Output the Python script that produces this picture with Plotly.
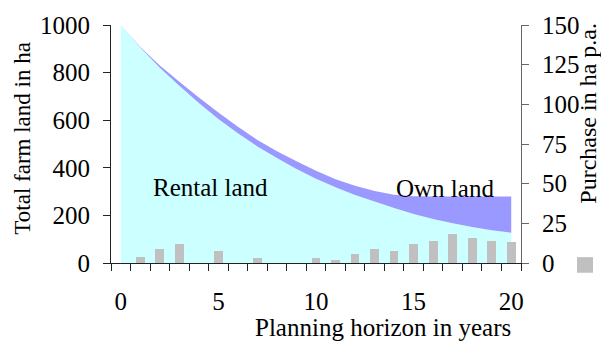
import plotly.graph_objects as go

years = list(range(0, 21))
rental_land = [1000, 905, 820, 745, 672, 605, 545, 490, 441, 395, 354, 318, 286, 258, 231, 206, 185, 167, 151, 138, 127]
own_land = [0, 3, 10, 17, 23, 27, 27, 27, 29, 32, 34, 34, 39, 45, 56, 74, 94, 112, 128, 141, 152]
purchase = [0, 4, 9, 12, 0, 7.5, 0, 3, 0, 0, 3, 2, 5.5, 8.6, 7.4, 11.9, 14.1, 18.4, 16, 14.1, 13.5]

left_ticks = [0, 200, 400, 600, 800, 1000]
right_ticks = [0, 25, 50, 75, 100, 125, 150]
x_labels = [0, 5, 10, 15, 20]

FONT = "Liberation Serif"

fig = go.Figure()
fig.add_trace(go.Scatter(x=years, y=rental_land, stackgroup="land", mode="none",
                         fillcolor="#CCFFFF", name="Rental land", showlegend=False,
                         hoverinfo="skip"))
fig.add_trace(go.Scatter(x=years, y=own_land, stackgroup="land", mode="none",
                         fillcolor="#9999FF", name="Own land", showlegend=False,
                         hoverinfo="skip"))
fig.add_trace(go.Bar(x=years, y=purchase, xaxis="x2", yaxis="y2", width=0.45,
                     marker=dict(color="#C0C0C0", line=dict(width=0)),
                     showlegend=False, name="Purchase"))

fig.update_layout(
    width=601, height=341,
    margin=dict(l=111, r=80, t=19, b=78),
    paper_bgcolor="white", plot_bgcolor="white",
    font=dict(family=FONT, size=25, color="black"),
    xaxis=dict(range=[-0.5, 20.5], tickvals=x_labels, ticks="", showline=False,
               showgrid=False, zeroline=False, ticklabelstandoff=21,
               tickfont=dict(size=25)),
    xaxis2=dict(range=[-0.5, 20.5], overlaying="x", anchor="y", side="bottom",
                tickmode="array", tickvals=[i - 0.5 for i in range(22)],
                ticks="outside", ticklen=7, tickcolor="#222", showticklabels=False,
                showline=True, linecolor="#222", linewidth=1,
                showgrid=False, zeroline=False),
    yaxis=dict(range=[0, 1000], tickvals=left_ticks, ticks="outside", ticklen=7,
               tickcolor="#222", showline=True, linecolor="#222", linewidth=1,
               showgrid=False, zeroline=False, ticklabelstandoff=8,
               tickfont=dict(size=25)),
    yaxis2=dict(range=[0, 150], tickvals=right_ticks, overlaying="y", side="right",
                anchor="x2", ticks="outside", ticklen=7, tickcolor="#666",
                showline=True, linecolor="#666", linewidth=1, showgrid=False,
                zeroline=False, ticklabelstandoff=8, tickfont=dict(size=25)),
    bargap=0,
    showlegend=False,
)

ann = [
    dict(text="Rental land", x=4.58, y=316, xref="x", yref="y", showarrow=False,
         xanchor="center", yanchor="middle", font=dict(size=25)),
    dict(text="Own land", x=16.63, y=312, xref="x", yref="y", showarrow=False,
         xanchor="center", yanchor="middle", font=dict(size=25)),
    dict(text="Total farm land in ha", x=-0.2159, y=0.5246, xref="paper", yref="paper",
         textangle=-90, showarrow=False, xanchor="center", yanchor="middle",
         font=dict(size=23)),
    dict(text="Purchase in ha p.a.", x=1.163, y=0.631, xref="paper", yref="paper",
         textangle=-90, showarrow=False, xanchor="center", yanchor="middle",
         font=dict(size=24)),
    dict(text="Planning horizon in years", x=0.663, y=-0.27, xref="paper", yref="paper",
         showarrow=False, xanchor="center", yanchor="middle", font=dict(size=25)),
]
fig.update_layout(annotations=ann)

fig.add_shape(type="rect", xref="paper", yref="paper",
              x0=1.1366, x1=1.1756, y0=-0.041, y1=0.0246,
              fillcolor="#C0C0C0", line=dict(width=0))

fig.write_html("out.html")
